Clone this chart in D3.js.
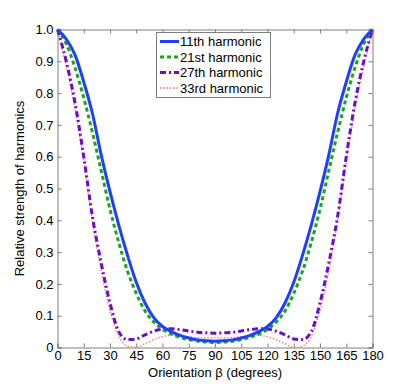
<!DOCTYPE html>
<html>
<head>
<meta charset="utf-8">
<script src="https://cdn.jsdelivr.net/npm/d3@7/dist/d3.min.js"></script>
<style>
  html, body { margin: 0; padding: 0; background: #fff; }
  svg text { font-family: "Liberation Sans", Arial, sans-serif; fill: #000; }
</style>
</head>
<body>
<svg id="chart" width="415" height="390"></svg>
<script>
// orientation beta in degrees
const beta = [0, 5, 10, 15, 20, 25, 30, 35, 40, 45, 50, 55, 60, 65, 70, 75, 80, 85, 90,
  95, 100, 105, 110, 115, 120, 125, 130, 135, 140, 145, 150, 155, 160, 165, 170, 175, 180];

const h11 = [1.0, 0.97, 0.92, 0.835, 0.735, 0.605, 0.49, 0.385, 0.29, 0.205, 0.14, 0.094, 0.066, 0.05, 0.038, 0.03, 0.024, 0.021, 0.02,
  0.021, 0.024, 0.03, 0.038, 0.05, 0.066, 0.094, 0.14, 0.205, 0.29, 0.385, 0.49, 0.605, 0.735, 0.835, 0.92, 0.97, 1.0];

const h21 = [1.0, 0.955, 0.88, 0.785, 0.675, 0.555, 0.435, 0.33, 0.24, 0.17, 0.115, 0.08, 0.057, 0.042, 0.032, 0.025, 0.02, 0.017, 0.016,
  0.017, 0.02, 0.025, 0.032, 0.042, 0.057, 0.08, 0.115, 0.17, 0.24, 0.33, 0.435, 0.555, 0.675, 0.785, 0.88, 0.955, 1.0];

const h27 = [1.0, 0.9, 0.77, 0.6, 0.41, 0.265, 0.14, 0.05, 0.025, 0.027, 0.04, 0.051, 0.058, 0.059, 0.056, 0.052, 0.048, 0.046, 0.045,
  0.046, 0.048, 0.052, 0.056, 0.059, 0.058, 0.051, 0.04, 0.027, 0.025, 0.05, 0.14, 0.265, 0.41, 0.6, 0.77, 0.9, 1.0];

const h33 = [1.0, 0.885, 0.75, 0.585, 0.395, 0.24, 0.115, 0.035, 0.004, 0.0, 0.012, 0.025, 0.034, 0.038, 0.037, 0.034, 0.031, 0.03, 0.03,
  0.03, 0.031, 0.034, 0.037, 0.038, 0.034, 0.025, 0.012, 0.0, 0.004, 0.035, 0.115, 0.24, 0.395, 0.585, 0.75, 0.885, 1.0];

const xTicks = d3.range(0, 181, 15);
const yTicks = [0, 0.1, 0.2, 0.3, 0.4, 0.5, 0.6, 0.7, 0.8, 0.9, 1.0];

const series = [
  { name: '11th harmonic', values: h11, color: '#1f3fff', width: 3, dash: null },
  { name: '21st harmonic', values: h21, color: '#1aa51a', width: 3, dash: '4,3' },
  { name: '27th harmonic', values: h27, color: '#6a0ccc', width: 3, dash: '6,3,2,3' },
  { name: '33rd harmonic', values: h33, color: '#ff6f6f', width: 1.3, dash: '1.5,1.8' }
];

const svg = d3.select('#chart');
const mLeft = 57.5, mRight = 372.5, mTop = 29.5, mBottom = 347.5;
const frameCol = '#7f7f7f';

const x = d3.scaleLinear().domain([0, 180]).range([mLeft, mRight]);
const y = d3.scaleLinear().domain([0, 1]).range([mBottom, mTop]);

// axes, ticks inward on all four sides
const fmtY = d => d === 0 ? '0' : d3.format('.1f')(d);
const axB = svg.append('g').attr('transform', `translate(0,${mBottom})`)
  .call(d3.axisBottom(x).tickValues(xTicks).tickSize(-4).tickPadding(3));
const axT = svg.append('g').attr('transform', `translate(0,${mTop})`)
  .call(d3.axisTop(x).tickValues(xTicks).tickSize(-4).tickFormat(''));
const axL = svg.append('g').attr('transform', `translate(${mLeft},0)`)
  .call(d3.axisLeft(y).tickValues(yTicks).tickSize(-4).tickPadding(4).tickFormat(fmtY));
const axR = svg.append('g').attr('transform', `translate(${mRight},0)`)
  .call(d3.axisRight(y).tickValues(yTicks).tickSize(-4).tickFormat(''));

[axB, axT, axL, axR].forEach(a => {
  a.select('.domain').attr('stroke', frameCol);
  a.selectAll('.tick line').attr('stroke', frameCol);
  a.selectAll('.tick text').attr('font-size', 13).style('font-family', '"Liberation Sans", Arial, sans-serif');
});

// curves
const line = d3.line().x((d, i) => x(beta[i])).y(d => y(d)).curve(d3.curveMonotoneX);
const plot = svg.append('g');
series.slice().reverse().forEach(s => {
  plot.append('path')
    .datum(s.values)
    .attr('d', line)
    .attr('fill', 'none')
    .attr('stroke', s.color)
    .attr('stroke-width', s.width)
    .attr('stroke-dasharray', s.dash);
});

// legend
const lg = svg.append('g');
lg.append('rect')
  .attr('x', 156.5).attr('y', 32.5).attr('width', 114).attr('height', 65)
  .attr('fill', '#fff').attr('stroke', frameCol);
series.forEach((s, i) => {
  const ly = 41.5 + i * 15.5;
  lg.append('line')
    .attr('x1', 160).attr('x2', 179).attr('y1', ly).attr('y2', ly)
    .attr('stroke', s.color).attr('stroke-width', s.width)
    .attr('stroke-dasharray', s.dash);
  lg.append('text')
    .attr('x', 180).attr('y', ly + 4.5)
    .attr('font-size', 13)
    .text(s.name);
});

// axis titles
svg.append('text')
  .attr('x', (mLeft + mRight) / 2).attr('y', 377)
  .attr('text-anchor', 'middle').attr('font-size', 13)
  .text('Orientation β (degrees)');
svg.append('text')
  .attr('transform', `translate(24,${(mTop + mBottom) / 2}) rotate(-90)`)
  .attr('text-anchor', 'middle').attr('font-size', 13)
  .text('Relative strength of harmonics');
</script>
</body>
</html>
